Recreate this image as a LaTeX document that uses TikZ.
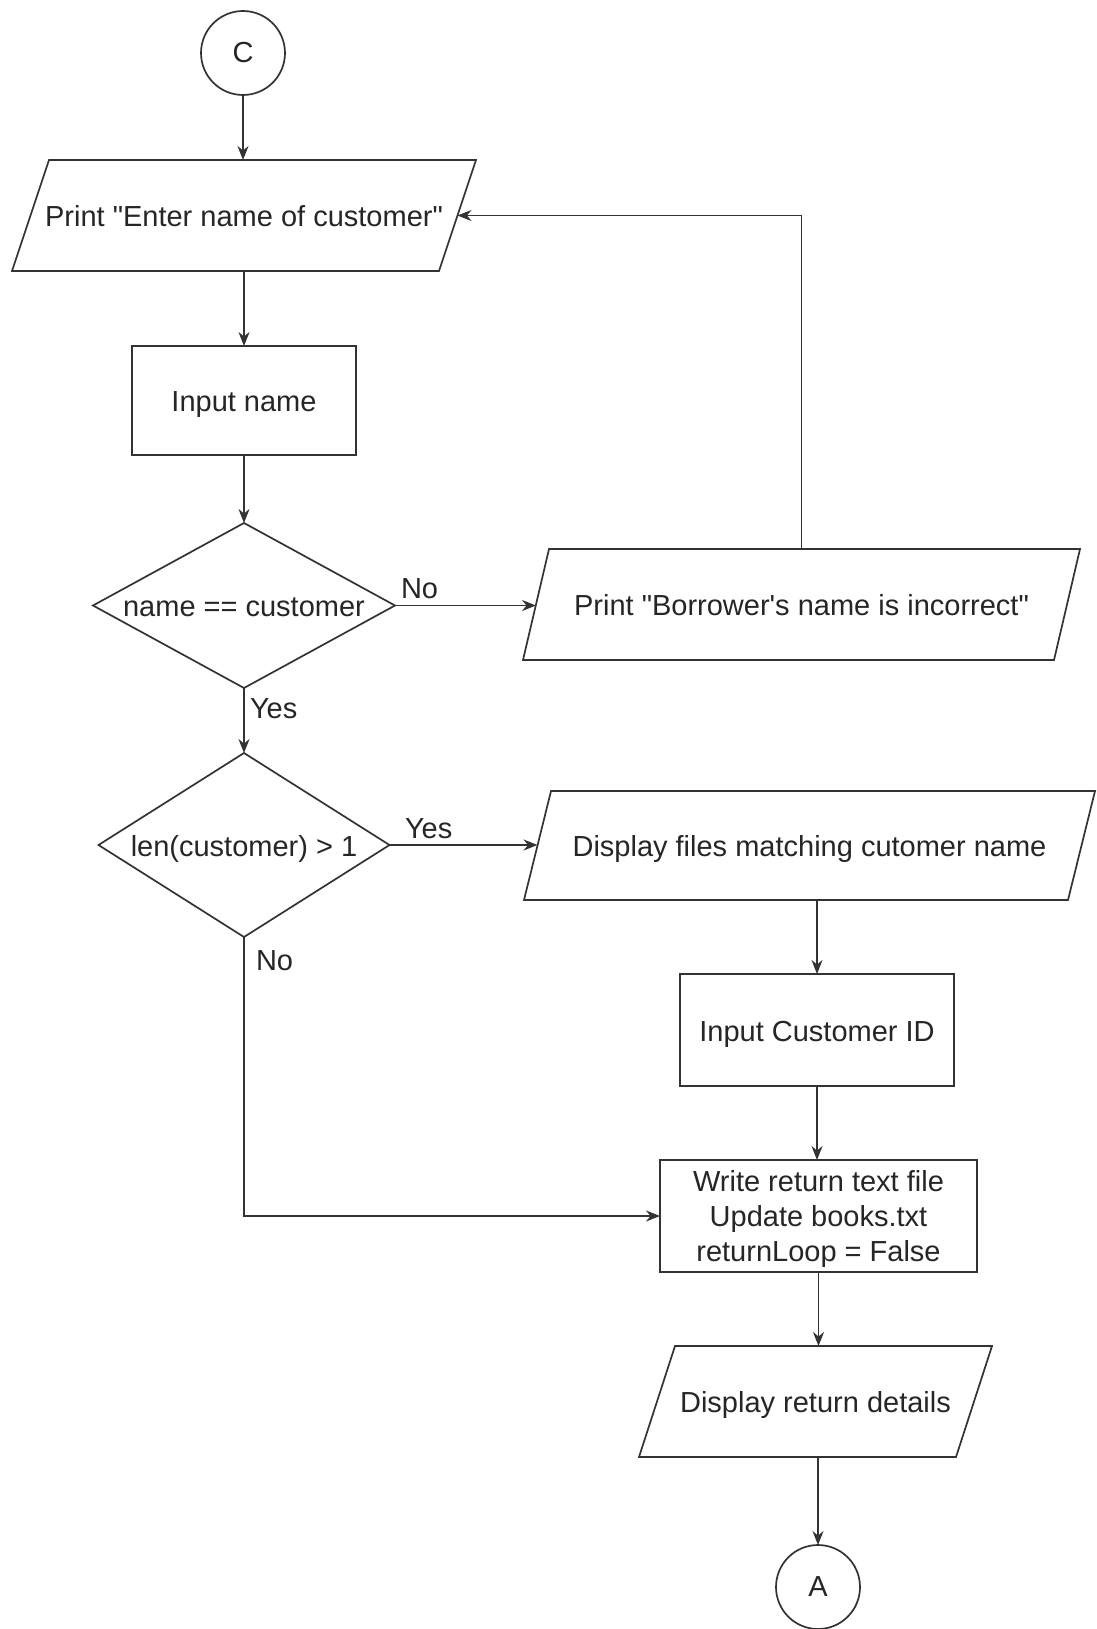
\documentclass[tikz,border=0pt]{standalone}
\usepackage{fontspec}
\newfontfamily\libsans{Liberation Sans}
\usetikzlibrary{arrows.meta}
\newcommand\myparal[2]{\draw ([xshift=#2pt]#1.north west) -- ([xshift=#2pt]#1.north east) -- ([xshift=-#2pt]#1.south east) -- ([xshift=-#2pt]#1.south west) -- cycle;}
\newcommand\mydiam[1]{\draw (#1.north) -- (#1.east) -- (#1.south) -- (#1.west) -- cycle;}
\begin{document}
\begin{tikzpicture}[x=1pt,y=-1pt,
  line width=1.7pt, draw=black!80,
  every node/.style={font=\libsans\fontsize{29}{35}\selectfont, text=black!85, inner sep=0pt, outer sep=0pt},
  conn/.style={circle, draw, minimum size=84pt},
  oneline/.style={text height=22pt, text depth=0pt},
  box/.style={draw, rectangle, align=center, oneline},
  multibox/.style={draw, rectangle, align=center, text depth=0pt},
  io/.style={rectangle, align=center, oneline},
  dec/.style={rectangle, align=center, oneline},
  arr/.style={-{Stealth[length=14pt,width=11pt]}},
  lbl/.style={anchor=base west}
]
\useasboundingbox (0,0) rectangle (1096,1629);
\fill[white] (0,0) rectangle (1096,1629);

\node[conn] (C) at (243,53) {C};
\node[io, minimum width=427pt, minimum height=111pt] (p1) at (244,215.5) {Print "Enter name of customer"};
\node[box, minimum width=224pt, minimum height=109pt] (in1) at (244,400.5) {Input name};
\node[dec, minimum width=302pt, minimum height=165pt] (d1) at (244,605.5) {name == customer};
\node[io, minimum width=531pt, minimum height=111pt] (p2) at (801.5,604.5) {Print "Borrower's name is incorrect"};
\node[dec, minimum width=291pt, minimum height=184pt] (d2) at (244,845) {len(customer) > 1};
\node[io, minimum width=544pt, minimum height=109pt] (p3) at (809.5,845.5) {Display files matching cutomer name};
\node[box, minimum width=274pt, minimum height=112pt] (in2) at (817,1030) {Input Customer ID};
\node[multibox, minimum width=317pt, minimum height=112pt] (w) at (818.5,1216) {Write return text file\\Update books.txt\\returnLoop = False};
\node[io, minimum width=317pt, minimum height=111pt] (p4) at (815.5,1401.5) {Display return details};
\node[conn] (A) at (818,1587) {A};

\myparal{p1}{18.5}
\myparal{p2}{13}
\myparal{p3}{13.5}
\myparal{p4}{18}
\mydiam{d1}
\mydiam{d2}

\draw[arr] (C.south) -- (C.south |- p1.north);
\draw[arr] (p1.south -| in1.north) -- (in1.north);
\draw[arr] (in1.south) -- (d1.north);
\draw[arr] (d1.east) -- (d1.east -| p2.west);
\draw[arr] (d1.south) -- (d2.north);
\draw[arr] (d2.east) -- (d2.east -| p3.west);
\draw[arr] (p2.north) |- (p1.east);
\draw[arr] (p3.south -| in2.north) -- (in2.north);
\draw[arr] (in2.south) -- (in2.south |- w.north);
\draw[arr] (d2.south) |- (w.west);
\draw[arr] (w.south) -- (w.south |- p4.north);
\draw[arr] (p4.south -| A.north) -- (A.north);

\node[lbl] (l1) at (401,598) {No};
\node[lbl] (l2) at (250,718) {Yes};
\node[lbl] (l3) at (405,838) {Yes};
\node[lbl] (l4) at (256,970) {No};
\end{tikzpicture}
\end{document}
